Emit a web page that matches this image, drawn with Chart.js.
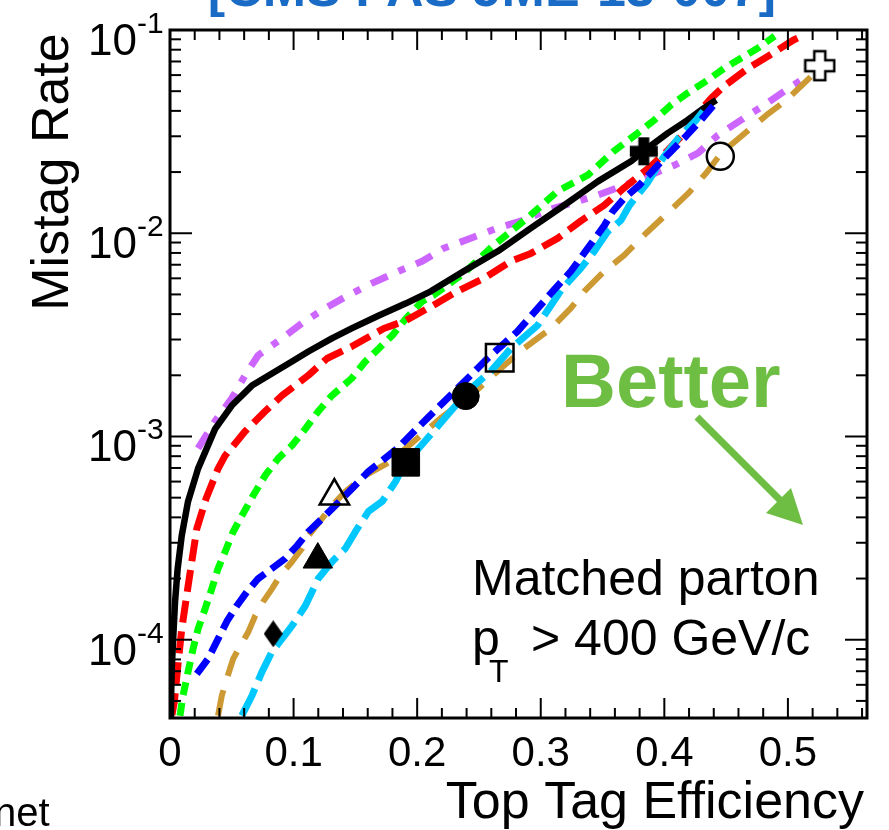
<!DOCTYPE html>
<html>
<head>
<meta charset="utf-8">
<script src="https://cdn.jsdelivr.net/npm/chart.js@4.4.1/dist/chart.umd.min.js"></script>
<style>
  html, body { margin: 0; padding: 0; background: #fff; }
  canvas { display: block; }
</style>
</head>
<body>
<canvas id="chart" width="889" height="830"></canvas>
<script>
// axis ranges and tick labels
var xMin = 0, xMax = 0.564;
var yMin = 4.12e-5, yMax = 0.1;
var xTickValues = [0, 0.1, 0.2, 0.3, 0.4, 0.5];
var xTickLabels = ['0', '0.1', '0.2', '0.3', '0.4', '0.5'];
var yTickValues = [1e-1, 1e-2, 1e-3, 1e-4];
var yTickExps = ['-1', '-2', '-3', '-4'];

// curves (efficiency, mistag rate)
var blackX = [0.0004,0.0008,0.0014,0.0027,0.0041,0.0062,0.0095,0.0146,0.0227,0.0365,0.050,0.0663,0.0852,0.0987,0.112,0.131,0.147,0.169,0.191,0.211,0.2376,0.2652,0.292,0.3187,0.3463,0.3731,0.3834,0.4028,0.419,0.4298,0.442];
var blackY = [4.18e-5,4.95e-5,7.2e-5,1.05e-4,1.54e-4,2.24e-4,3.25e-4,4.79e-4,6.95e-4,1.09e-3,1.42e-3,1.78e-3,2.09e-3,2.34e-3,2.62e-3,3.04e-3,3.40e-3,3.94e-3,4.52e-3,5.18e-3,6.5e-3,8.15e-3,1.06e-2,1.37e-2,1.80e-2,2.26e-2,2.54e-2,3.11e-2,3.61e-2,4.04e-2,4.52e-2];

var redX = [0.0016,0.0035,0.0067,0.0095,0.0135,0.0176,0.0217,0.0292,0.0389,0.0446,0.0608,0.077,0.0906,0.112,0.127,0.147,0.173,0.191,0.213,0.2325,0.2539,0.2758,0.292,0.3136,0.3325,0.3512,0.3674,0.3893,0.4028,0.4163,0.4272,0.438,0.4485,0.468,0.4842,0.5045,0.5134];
var redY = [4.27e-5,4.95e-5,7.8e-5,1.13e-4,1.65e-4,2.42e-4,3.52e-4,4.95e-4,6.95e-4,8.05e-4,1.06e-3,1.33e-3,1.59e-3,2.0e-3,2.42e-3,2.77e-3,3.40e-3,3.72e-3,4.42e-3,5.18e-3,6.0e-3,7.28e-3,7.96e-3,9.44e-3,1.15e-2,1.37e-2,1.67e-2,2.14e-2,2.56e-2,3.11e-2,3.90e-2,4.62e-2,5.30e-2,6.5e-2,7.45e-2,8.93e-2,9.45e-2];

var greenX = [0.0081,0.0105,0.0146,0.0187,0.0227,0.0284,0.0338,0.0389,0.0446,0.0511,0.0582,0.0673,0.077,0.0876,0.0987,0.1095,0.120,0.131,0.147,0.158,0.169,0.180,0.191,0.204,0.2133,0.2376,0.262,0.2893,0.3136,0.338,0.3593,0.3785,0.392,0.4055,0.419,0.4353,0.4488,0.4623,0.4758,0.4893];
var greenY = [4.23e-5,5.3e-5,6.95e-5,9.03e-5,1.13e-4,1.42e-4,1.78e-4,2.24e-4,2.71e-4,3.40e-4,4.08e-4,5.12e-4,6.43e-4,7.8e-4,9.03e-4,1.09e-3,1.33e-3,1.59e-3,1.93e-3,2.34e-3,2.71e-3,3.15e-3,3.81e-3,4.62e-3,4.96e-3,6.35e-3,8.73e-3,1.19e-2,1.61e-2,1.93e-2,2.54e-2,3.11e-2,3.61e-2,4.28e-2,4.90e-2,5.68e-2,6.5e-2,7.28e-2,8.15e-2,9.33e-2];

var purpleX = [0.0227,0.0365,0.050,0.0608,0.0714,0.0906,0.1068,0.1257,0.1444,0.1636,0.185,0.204,0.2214,0.2433,0.265,0.2863,0.3055,0.3258,0.346,0.3676,0.3866,0.408,0.4272,0.4434,0.4623,0.481,0.4972,0.5158];
var purpleY = [8.73e-4,1.19e-3,1.54e-3,2.0e-3,2.51e-3,3.04e-3,3.61e-3,4.28e-3,4.96e-3,5.68e-3,6.5e-3,7.28e-3,8.43e-3,9.44e-3,1.06e-2,1.16e-2,1.30e-2,1.41e-2,1.54e-2,1.72e-2,1.91e-2,2.16e-2,2.48e-2,3.04e-2,3.61e-2,4.28e-2,5.01e-2,5.93e-2];

var blueX = [0.0217,0.0308,0.0389,0.046,0.0541,0.0622,0.0714,0.0825,0.0933,0.1028,0.112,0.123,0.1338,0.1474,0.1606,0.1839,0.2082,0.2325,0.2569,0.2812,0.3082,0.3244,0.338,0.3514,0.3582,0.3676,0.3796,0.4015,0.4177,0.4298,0.4434];
var blueY = [6.8e-5,8.05e-5,1.01e-4,1.23e-4,1.47e-4,1.72e-4,2.0e-4,2.24e-4,2.51e-4,2.90e-4,3.40e-4,3.94e-4,4.57e-4,5.55e-4,6.73e-4,8.73e-4,1.23e-3,1.72e-3,2.42e-3,3.29e-3,5.06e-3,6.5e-3,8.43e-3,1.09e-2,1.28e-2,1.49e-2,1.72e-2,2.39e-2,3.01e-2,3.61e-2,4.52e-2];

var cyanX = [0.0581,0.0663,0.0744,0.0825,0.0906,0.0987,0.1095,0.120,0.1311,0.1419,0.150,0.1606,0.1717,0.1825,0.189,0.2082,0.2271,0.2433,0.2595,0.2758,0.2974,0.317,0.3325,0.3433,0.3542,0.365,0.3717,0.386,0.3998,0.412,0.4258,0.4315];
var cyanY = [4.23e-5,5.3e-5,6.95e-5,8.73e-5,1.01e-4,1.17e-4,1.47e-4,2.0e-4,2.42e-4,2.81e-4,3.40e-4,4.28e-4,4.79e-4,6.0e-4,7.2e-4,9.77e-4,1.33e-3,1.72e-3,2.09e-3,2.71e-3,3.52e-3,5.3e-3,6.73e-3,8.15e-3,1.02e-2,1.16e-2,1.37e-2,1.76e-2,2.39e-2,2.97e-2,3.61e-2,3.99e-2];

var tanX = [0.0389,0.0419,0.046,0.0511,0.0568,0.0633,0.0689,0.0754,0.0825,0.0892,0.0987,0.1068,0.112,0.123,0.1311,0.1419,0.1581,0.1784,0.2,0.219,0.2433,0.2676,0.2863,0.3082,0.3244,0.3352,0.3514,0.3676,0.3852,0.3998,0.4193,0.4339,0.4461,0.468,0.4826,0.4988,0.5191];
var tanY = [4.23e-5,5.3e-5,6.43e-5,8.05e-5,9.33e-5,1.09e-4,1.31e-4,1.54e-4,1.78e-4,2.07e-4,2.42e-4,2.81e-4,3.25e-4,3.94e-4,4.57e-4,5.36e-4,6.43e-4,7.53e-4,9.77e-4,1.23e-3,1.59e-3,2.16e-3,2.71e-3,3.40e-3,4.28e-3,5.18e-3,6.5e-3,7.8e-3,1.0e-2,1.21e-2,1.57e-2,1.98e-2,2.48e-2,3.21e-2,3.81e-2,4.52e-2,5.93e-2];

// single working points
var markerX = [0.3834, 0.4453, 0.5258, 0.2668, 0.2393, 0.1908, 0.133, 0.1196, 0.0835];
var markerY = [0.0253, 0.0239, 0.0667, 2.44e-3, 1.58e-3, 7.46e-4, 5.09e-4, 2.48e-4, 1.07e-4];
var markerKind = ['plusFilled', 'circleOpen', 'plusOpen', 'squareOpen', 'circleFilled', 'squareFilled', 'triangleOpen', 'triangleFilled', 'diamondFilled'];

var FONT = '"Liberation Sans", Arial, Helvetica, sans-serif';

function toPoints(xs, ys) {
    var pts = [];
    for (var i = 0; i < xs.length; i++) {
        pts.push({x: xs[i], y: ys[i]});
    }
    return pts;
}

function makePlus(size, arm, filled) {
    var c = document.createElement('canvas');
    c.width = size + 4;
    c.height = size + 4;
    var g = c.getContext('2d');
    var o = 2, s0 = (size - arm) / 2, s1 = s0 + arm;
    g.beginPath();
    g.moveTo(o + s0, o);
    g.lineTo(o + s1, o);
    g.lineTo(o + s1, o + s0);
    g.lineTo(o + size, o + s0);
    g.lineTo(o + size, o + s1);
    g.lineTo(o + s1, o + s1);
    g.lineTo(o + s1, o + size);
    g.lineTo(o + s0, o + size);
    g.lineTo(o + s0, o + s1);
    g.lineTo(o, o + s1);
    g.lineTo(o, o + s0);
    g.lineTo(o + s0, o + s0);
    g.closePath();
    if (filled) {
        g.fillStyle = '#000';
        g.fill();
    } else {
        g.fillStyle = '#fff';
        g.fill();
        g.lineWidth = 2.5;
        g.strokeStyle = '#000';
        g.stroke();
    }
    return c;
}

function makeDiamond(w, h) {
    var c = document.createElement('canvas');
    c.width = w;
    c.height = h;
    var g = c.getContext('2d');
    g.beginPath();
    g.moveTo(w / 2, 0);
    g.lineTo(w, h / 2);
    g.lineTo(w / 2, h);
    g.lineTo(0, h / 2);
    g.closePath();
    g.fillStyle = '#000';
    g.fill();
    return c;
}

var markerLook = {
    plusFilled:     {style: makePlus(28, 11, true), r: 14, bg: '#000', bw: 0},
    plusOpen:       {style: makePlus(29, 11, false), r: 14, bg: '#fff', bw: 0},
    circleOpen:     {style: 'circle', r: 13.5, bg: 'rgba(0,0,0,0)', bw: 2.5},
    circleFilled:   {style: 'circle', r: 13.5, bg: '#000', bw: 1},
    squareOpen:     {style: 'rect', r: 19.5, bg: 'rgba(0,0,0,0)', bw: 2.5},
    squareFilled:   {style: 'rect', r: 19.5, bg: '#000', bw: 1},
    triangleOpen:   {style: 'triangle', r: 17, bg: 'rgba(0,0,0,0)', bw: 2.5},
    triangleFilled: {style: 'triangle', r: 17, bg: '#000', bw: 1},
    diamondFilled:  {style: makeDiamond(19, 27), r: 14, bg: '#000', bw: 0}
};

function lineSet(label, xs, ys, color, dash, width) {
    return {
        label: label,
        data: toPoints(xs, ys),
        showLine: true,
        borderColor: color,
        borderWidth: width,
        borderDash: dash,
        borderCapStyle: 'butt',
        borderJoinStyle: 'round',
        pointRadius: 0,
        fill: false,
        tension: 0
    };
}

var markerSet = {
    label: 'markers',
    data: toPoints(markerX, markerY),
    showLine: false,
    pointStyle: markerKind.map(function (k) { return markerLook[k].style; }),
    pointRadius: markerKind.map(function (k) { return markerLook[k].r; }),
    pointBackgroundColor: markerKind.map(function (k) { return markerLook[k].bg; }),
    pointBorderColor: '#000',
    pointBorderWidth: markerKind.map(function (k) { return markerLook[k].bw; })
};

// first dataset is painted last (on top)
var datasets = [
    markerSet,
    lineSet('blue', blueX, blueY, '#0000ff', [18, 8], 7),
    lineSet('cyan', cyanX, cyanY, '#00c8ff', [30, 9], 7),
    lineSet('tan', tanX, tanY, '#cc9933', [26, 15], 6),
    lineSet('black', blackX, blackY, '#000000', [], 6.5),
    lineSet('red', redX, redY, '#ff0000', [22, 9], 7),
    lineSet('green', greenX, greenY, '#00ff00', [13, 8], 7),
    lineSet('purple', purpleX, purpleY, '#cc66ff', [18, 12, 7, 12], 7)
];

function seg(ctx, x1, y1, x2, y2) {
    ctx.beginPath();
    ctx.moveTo(x1, y1);
    ctx.lineTo(x2, y2);
    ctx.stroke();
}

var framePlugin = {
    id: 'frame',
    afterDatasetsDraw: function (chart) {
        var ctx = chart.ctx, a = chart.chartArea;
        var xs = chart.scales.x, ys = chart.scales.y;
        ctx.save();
        ctx.strokeStyle = '#000';
        ctx.lineWidth = 2;
        // x ticks, inward on bottom and top
        for (var i = 0; i * 0.02 <= xMax + 1e-9; i++) {
            var px = xs.getPixelForValue(i * 0.02);
            var len = (i % 5 === 0) ? 20 : 10;
            seg(ctx, px, a.bottom, px, a.bottom - len);
            seg(ctx, px, a.top, px, a.top + len);
        }
        // y ticks, inward on left and right
        for (var d = -5; d <= -1; d++) {
            for (var m = 1; m <= 9; m++) {
                var v = m * Math.pow(10, d);
                if (v < yMin || v > yMax * 1.0001) continue;
                var py = ys.getPixelForValue(v);
                var ylen = (m === 1) ? 22 : 11;
                seg(ctx, a.left, py, a.left + ylen, py);
                seg(ctx, a.right, py, a.right - ylen, py);
            }
        }
        ctx.lineWidth = 3;
        ctx.strokeRect(a.left, a.top, a.right - a.left, a.bottom - a.top);
        ctx.restore();
    },
    afterDraw: function (chart) {
        var ctx = chart.ctx;
        var xs = chart.scales.x, ys = chart.scales.y;
        ctx.save();
        ctx.fillStyle = '#000';
        ctx.textBaseline = 'alphabetic';

        // x tick labels
        ctx.font = '42px ' + FONT;
        ctx.textAlign = 'center';
        xTickValues.forEach(function (v, i) {
            ctx.fillText(xTickLabels[i], xs.getPixelForValue(v), 766);
        });

        // y tick labels 10^n
        yTickValues.forEach(function (v, i) {
            var py = ys.getPixelForValue(v);
            ctx.font = '44px ' + FONT;
            ctx.textAlign = 'right';
            ctx.fillText('10', 137, py + 25);
            ctx.font = '30px ' + FONT;
            ctx.textAlign = 'left';
            ctx.fillText(yTickExps[i], 137, py + 3);
        });

        // axis titles
        ctx.font = '52px ' + FONT;
        ctx.textAlign = 'right';
        ctx.fillText('Top Tag Efficiency', 864, 818);
        ctx.save();
        ctx.translate(68, 172);
        ctx.rotate(-Math.PI / 2);
        ctx.textAlign = 'center';
        ctx.fillText('Mistag Rate', 0, 0);
        ctx.restore();

        // cut-off title on top
        ctx.fillStyle = '#1a6bc6';
        ctx.font = 'bold 52px ' + FONT;
        ctx.textAlign = 'center';
        ctx.fillText('[CMS PAS JME-13-007]', 492, 6);

        // leftover text at bottom left
        ctx.fillStyle = '#000';
        ctx.font = '40px ' + FONT;
        ctx.textAlign = 'left';
        ctx.fillText('net', -6, 826);

        // "Better" arrow
        ctx.fillStyle = '#6fbe44';
        ctx.strokeStyle = '#6fbe44';
        ctx.font = 'bold 76px ' + FONT;
        ctx.fillText('Better', 561, 407);
        ctx.lineWidth = 7;
        seg(ctx, 697, 417, 783, 503);
        ctx.beginPath();
        ctx.moveTo(803, 525);
        ctx.lineTo(766, 513);
        ctx.lineTo(791, 488);
        ctx.closePath();
        ctx.fill();

        // selection text
        ctx.fillStyle = '#000';
        ctx.font = '50px ' + FONT;
        ctx.fillText('Matched parton', 472, 595);
        ctx.fillText('p', 472, 655);
        ctx.font = '32px ' + FONT;
        ctx.fillText('T', 489, 682);
        ctx.font = '50px ' + FONT;
        ctx.fillText('> 400 GeV/c', 531, 655);
        ctx.restore();
    }
};

new Chart(document.getElementById('chart'), {
    type: 'scatter',
    data: {datasets: datasets},
    options: {
        responsive: false,
        devicePixelRatio: 1,
        animation: false,
        events: [],
        layout: {padding: {left: 170, right: 22, top: 30, bottom: 112}},
        plugins: {
            legend: {display: false},
            tooltip: {enabled: false}
        },
        scales: {
            x: {type: 'linear', min: xMin, max: xMax, display: false},
            y: {type: 'logarithmic', min: yMin, max: yMax, display: false}
        }
    },
    plugins: [framePlugin]
});
</script>
</body>
</html>
